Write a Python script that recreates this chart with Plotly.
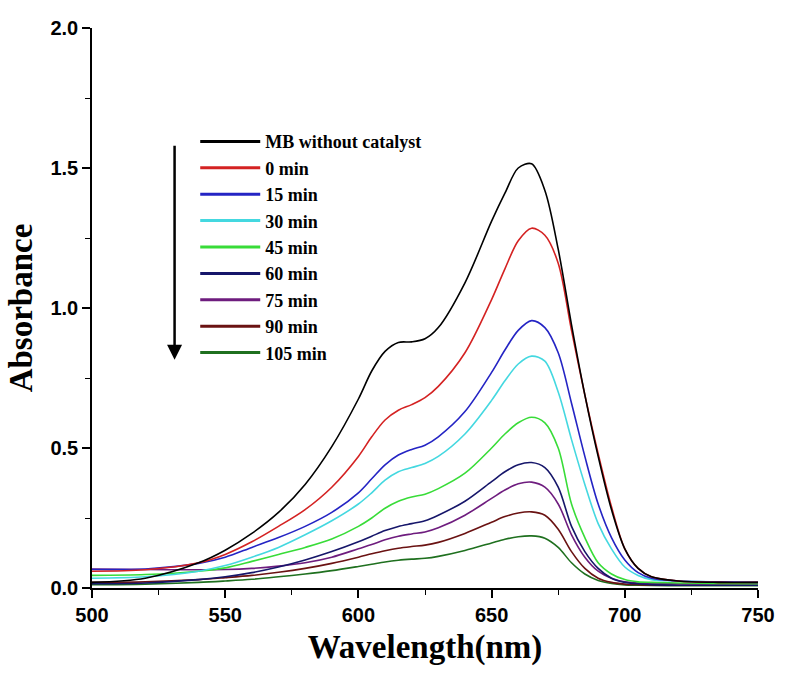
import plotly.graph_objects as go

# Wavelength grid (nm)
wavelength = [500, 520, 540, 550, 560, 570, 580, 590, 600, 605, 610, 615, 620, 625,
              630, 640, 650, 655, 660, 665, 670, 675, 680, 685, 690, 695, 700, 705,
              710, 720, 735, 750]

series_names = ["MB without catalyst", "0 min", "15 min", "30 min", "45 min",
                "60 min", "75 min", "90 min", "105 min"]

series_colors = ["#000000", "#d42222", "#2424c4", "#44d8e0", "#38dc38",
                 "#16166a", "#6e1c7e", "#6a1212", "#1f701f"]

abs_mb = [0.020, 0.035, 0.090, 0.135, 0.195, 0.270, 0.370, 0.505, 0.675, 0.775, 0.845, 0.877,
          0.879, 0.890, 0.930, 1.090, 1.310, 1.410, 1.500, 1.515, 1.420, 1.210, 0.940, 0.690,
          0.470, 0.280, 0.140, 0.070, 0.040, 0.025, 0.020, 0.020]
abs_0 = [0.060, 0.065, 0.090, 0.120, 0.165, 0.220, 0.280, 0.360, 0.470, 0.540, 0.600, 0.635,
         0.655, 0.680, 0.720, 0.840, 1.030, 1.140, 1.240, 1.285, 1.260, 1.160, 0.920, 0.690,
         0.480, 0.290, 0.140, 0.070, 0.040, 0.025, 0.020, 0.020]
abs_15 = [0.066, 0.068, 0.088, 0.110, 0.145, 0.180, 0.220, 0.270, 0.340, 0.390, 0.440, 0.475,
          0.495, 0.510, 0.540, 0.630, 0.770, 0.850, 0.920, 0.955, 0.930, 0.840, 0.660, 0.470,
          0.300, 0.180, 0.100, 0.055, 0.035, 0.025, 0.022, 0.020]
abs_30 = [0.035, 0.040, 0.060, 0.080, 0.110, 0.145, 0.190, 0.240, 0.300, 0.340, 0.385, 0.415,
          0.430, 0.445, 0.470, 0.550, 0.670, 0.740, 0.800, 0.828, 0.810, 0.700, 0.530, 0.370,
          0.230, 0.140, 0.075, 0.045, 0.030, 0.025, 0.022, 0.020]
abs_45 = [0.045, 0.048, 0.060, 0.072, 0.095, 0.120, 0.145, 0.175, 0.220, 0.250, 0.285, 0.310,
          0.325, 0.335, 0.355, 0.410, 0.500, 0.550, 0.590, 0.610, 0.590, 0.500, 0.300, 0.180,
          0.090, 0.050, 0.030, 0.022, 0.020, 0.018, 0.016, 0.015]
abs_60 = [0.015, 0.018, 0.030, 0.040, 0.055, 0.075, 0.100, 0.130, 0.165, 0.185, 0.205, 0.220,
          0.230, 0.240, 0.260, 0.310, 0.380, 0.415, 0.440, 0.448, 0.430, 0.360, 0.220, 0.130,
          0.070, 0.035, 0.020, 0.015, 0.012, 0.010, 0.010, 0.010]
abs_75 = [0.068, 0.066, 0.065, 0.066, 0.070, 0.078, 0.090, 0.110, 0.140, 0.155, 0.172, 0.185,
          0.193, 0.200, 0.215, 0.260, 0.320, 0.350, 0.372, 0.378, 0.360, 0.300, 0.190, 0.110,
          0.060, 0.035, 0.022, 0.018, 0.016, 0.015, 0.015, 0.015]
abs_90 = [0.020, 0.022, 0.030, 0.037, 0.045, 0.056, 0.070, 0.088, 0.110, 0.122, 0.133, 0.142,
          0.148, 0.153, 0.163, 0.195, 0.235, 0.255, 0.268, 0.272, 0.260, 0.210, 0.130, 0.070,
          0.035, 0.020, 0.014, 0.012, 0.011, 0.010, 0.010, 0.010]
abs_105 = [0.012, 0.014, 0.020, 0.025, 0.031, 0.040, 0.050, 0.062, 0.077, 0.085, 0.093, 0.099,
           0.103, 0.106, 0.113, 0.134, 0.161, 0.174, 0.183, 0.186, 0.178, 0.145, 0.090, 0.050,
           0.027, 0.016, 0.011, 0.010, 0.009, 0.008, 0.008, 0.008]

series_values = [abs_mb, abs_0, abs_15, abs_30, abs_45, abs_60, abs_75, abs_90, abs_105]

x_ticks = [500, 550, 600, 650, 700, 750]
y_ticks = [0.0, 0.5, 1.0, 1.5, 2.0]

fig = go.Figure()

# spectra (drawn back to front so the MB curve sits on top)
for name, color, vals in reversed(list(zip(series_names, series_colors, series_values))):
    fig.add_trace(go.Scatter(
        x=wavelength, y=vals, mode="lines", name=name,
        line=dict(color=color, width=1.6, shape="spline", smoothing=0.9),
        showlegend=False, hoverinfo="skip"))

# legend entries with thicker sample lines
for name, color in zip(series_names, series_colors):
    fig.add_trace(go.Scatter(
        x=[None], y=[None], mode="lines", name=name,
        line=dict(color=color, width=3), legendgroup=name, showlegend=True))

# arrow showing decreasing absorbance with time
fig.add_annotation(x=531, y=0.815, ax=531, ay=1.585, xref="x", yref="y",
                   axref="x", ayref="y", text="", showarrow=True,
                   arrowhead=2, arrowsize=1.2, arrowwidth=2.5, arrowcolor="black")

tick_font = dict(family="Liberation Sans", size=20, color="black", weight="bold")
title_font = dict(family="Liberation Serif", size=33, color="black", weight="bold")

fig.update_layout(
    width=787, height=680,
    margin=dict(l=92, r=21, t=28, b=92),
    paper_bgcolor="white", plot_bgcolor="white",
    showlegend=True,
    legend=dict(x=0.155, y=0.83, xanchor="left", yanchor="top",
                font=dict(family="Liberation Serif", size=18, color="black", weight="bold"),
                bgcolor="rgba(0,0,0,0)", itemwidth=60, tracegroupgap=0,
                traceorder="normal"),
    xaxis=dict(range=[500, 750], tickvals=x_ticks, ticktext=[str(v) for v in x_ticks],
               showgrid=False, zeroline=False, showline=True, linecolor="black",
               linewidth=1.5, ticks="outside", ticklen=8, tickwidth=1.5, tickcolor="black",
               tickfont=tick_font,
               minor=dict(dtick=25, tick0=500, ticks="outside", ticklen=5, tickwidth=1.2,
                          tickcolor="black"),
               title=dict(text="Wavelength(nm)", font=title_font, standoff=10)),
    yaxis=dict(range=[0, 2.0], tickvals=y_ticks, ticktext=[f"{v:.1f}" for v in y_ticks],
               showgrid=False, zeroline=False, showline=True, linecolor="black",
               linewidth=1.5, ticks="outside", ticklen=8, tickwidth=1.5, tickcolor="black",
               tickfont=tick_font,
               minor=dict(dtick=0.25, tick0=0, ticks="outside", ticklen=5, tickwidth=1.2,
                          tickcolor="black"),
               title=dict(text="Absorbance", font=title_font, standoff=8)),
)

fig.write_html("out.html")
